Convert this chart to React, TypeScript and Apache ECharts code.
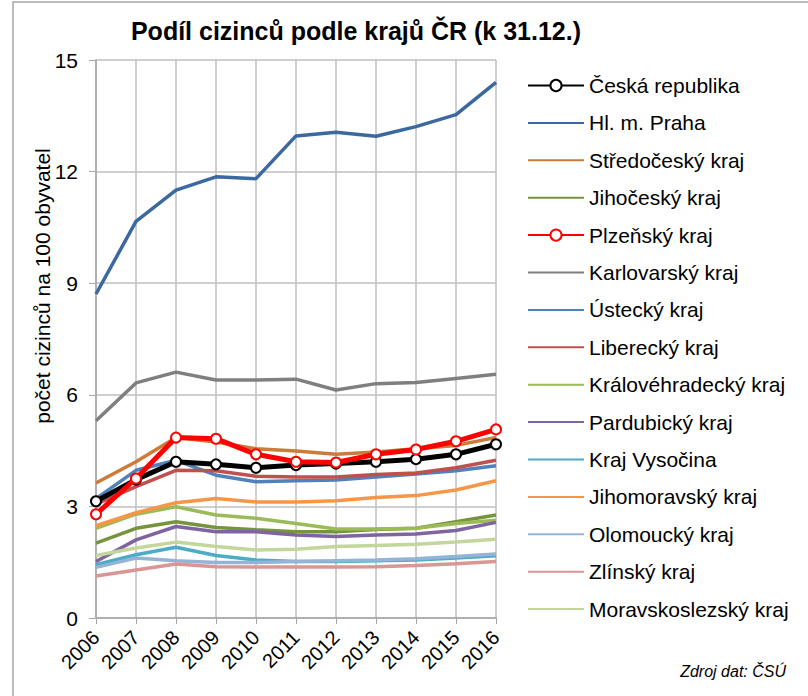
import React, { useEffect, useRef } from "react";
import * as echarts from "echarts";

const years = ["2006", "2007", "2008", "2009", "2010", "2011", "2012", "2013", "2014", "2015", "2016"];

const ceskaRepublika = [3.14, 3.72, 4.2, 4.13, 4.04, 4.11, 4.15, 4.2, 4.27, 4.4, 4.67];
const praha = [8.71, 10.66, 11.5, 11.86, 11.81, 12.96, 13.06, 12.95, 13.21, 13.53, 14.4];
const stredocesky = [3.63, 4.2, 4.85, 4.73, 4.55, 4.49, 4.4, 4.46, 4.55, 4.64, 4.85];
const jihocesky = [2.01, 2.41, 2.59, 2.43, 2.37, 2.32, 2.32, 2.38, 2.41, 2.59, 2.77];
const plzensky = [2.79, 3.75, 4.85, 4.82, 4.4, 4.2, 4.18, 4.4, 4.53, 4.75, 5.07];
const karlovarsky = [5.3, 6.32, 6.61, 6.4, 6.4, 6.42, 6.13, 6.3, 6.33, 6.44, 6.55];
const ustecky = [3.21, 3.97, 4.24, 3.84, 3.66, 3.69, 3.71, 3.79, 3.87, 3.96, 4.09];
const liberecky = [3.06, 3.53, 3.97, 3.96, 3.81, 3.79, 3.79, 3.86, 3.9, 4.04, 4.24];
const kralovehradecky = [2.41, 2.79, 2.99, 2.77, 2.68, 2.54, 2.39, 2.39, 2.41, 2.54, 2.63];
const pardubicky = [1.52, 2.1, 2.46, 2.32, 2.32, 2.23, 2.19, 2.23, 2.26, 2.35, 2.57];
const vysocina = [1.43, 1.7, 1.9, 1.68, 1.56, 1.52, 1.52, 1.54, 1.56, 1.61, 1.67];
const jihomoravsky = [2.48, 2.83, 3.1, 3.21, 3.12, 3.12, 3.15, 3.24, 3.29, 3.44, 3.69];
const olomoucky = [1.36, 1.61, 1.54, 1.49, 1.49, 1.52, 1.54, 1.56, 1.59, 1.65, 1.72];
const zlinsky = [1.13, 1.29, 1.45, 1.38, 1.37, 1.37, 1.37, 1.38, 1.41, 1.46, 1.52];
const moravskoslezsky = [1.68, 1.88, 2.04, 1.92, 1.83, 1.85, 1.92, 1.95, 1.98, 2.04, 2.12];

const seriesNames = [
  "Česká republika",
  "Hl. m. Praha",
  "Středočeský kraj",
  "Jihočeský kraj",
  "Plzeňský kraj",
  "Karlovarský kraj",
  "Ústecký kraj",
  "Liberecký kraj",
  "Královéhradecký kraj",
  "Pardubický kraj",
  "Kraj Vysočina",
  "Jihomoravský kraj",
  "Olomoucký kraj",
  "Zlínský kraj",
  "Moravskoslezský kraj",
];
const seriesData = [
  ceskaRepublika, praha, stredocesky, jihocesky, plzensky, karlovarsky, ustecky, liberecky,
  kralovehradecky, pardubicky, vysocina, jihomoravsky, olomoucky, zlinsky, moravskoslezsky,
];
const seriesColors = [
  "#000000", "#3b68a0", "#cc7b38", "#77933c", "#ff0000", "#7f7f7f", "#4f81bd", "#c0504d",
  "#9bbb59", "#8064a2", "#4bacc6", "#f79646", "#95b3d7", "#d99694", "#c3d69b",
];
const withMarkers = ["Česká republika", "Plzeňský kraj"];

const yTicks = { min: 0, max: 15, interval: 3 };

const FONT = "'Liberation Sans', Arial, sans-serif";

export default function App() {
  const ref = useRef<HTMLDivElement>(null);

  useEffect(() => {
    if (!ref.current) return;
    const chart = echarts.init(ref.current, undefined, { renderer: "svg" });

    const series = seriesNames.map((name, i) => {
      const marked = withMarkers.includes(name);
      return {
        name,
        type: "line",
        data: seriesData[i],
        symbol: marked ? "circle" : "none",
        symbolSize: 10,
        showSymbol: marked,
        z: name === "Plzeňský kraj" ? 5 : name === "Česká republika" ? 4 : 2,
        lineStyle: { color: seriesColors[i], width: marked ? 5 : 3.5 },
        itemStyle: marked
          ? { color: "#ffffff", borderColor: seriesColors[i], borderWidth: 2 }
          : { color: seriesColors[i] },
      };
    });

    chart.setOption({
      animation: false,
      backgroundColor: "#ffffff",
      textStyle: { fontFamily: FONT },
      title: {
        text: "Podíl cizinců podle krajů ČR (k 31.12.)",
        left: 351,
        top: 13,
        textAlign: "center",
        textStyle: { fontFamily: FONT, fontSize: 25, fontWeight: "bold", color: "#000" },
      },
      legend: {
        orient: "vertical",
        left: 522,
        top: 70,
        itemWidth: 56,
        itemHeight: 14,
        itemGap: 16.4,
        textStyle: { fontFamily: FONT, fontSize: 21, lineHeight: 21, color: "#000" },
        data: seriesNames.map((name) =>
          withMarkers.includes(name) ? { name } : { name, itemStyle: { opacity: 0 } }
        ),
      },
      grid: { left: 96, right: 312, top: 60, bottom: 78, containLabel: false },
      xAxis: {
        type: "category",
        data: years,
        boundaryGap: false,
        axisLine: { lineStyle: { color: "#a6a6a6", width: 1.5 } },
        axisTick: { show: true, length: 6, lineStyle: { color: "#a6a6a6" } },
        splitLine: { show: true, lineStyle: { color: "#bfbfbf", width: 1.5 } },
        axisLabel: { rotate: 45, fontSize: 20, color: "#000", margin: 16, fontFamily: FONT },
      },
      yAxis: {
        type: "value",
        min: yTicks.min,
        max: yTicks.max,
        interval: yTicks.interval,
        axisLine: { show: true, lineStyle: { color: "#a6a6a6", width: 1.5 } },
        axisTick: { show: true, length: 7, lineStyle: { color: "#a6a6a6" } },
        splitLine: { show: true, lineStyle: { color: "#bfbfbf", width: 1.5 } },
        axisLabel: { fontSize: 21, color: "#000", margin: 18, fontFamily: FONT },
      },
      graphic: [
        {
          type: "rect",
          shape: { x: 13, y: 2, width: 900, height: 900 },
          style: { fill: "none", stroke: "#a6a6a6", lineWidth: 1.5 },
          silent: true,
          z: -1,
        },
        {
          type: "text",
          x: 42,
          y: 286,
          rotation: Math.PI / 2,
          style: {
            text: "počet cizinců na 100 obyvatel",
            fontFamily: FONT,
            fontSize: 21,
            fill: "#000",
            align: "center",
            verticalAlign: "middle",
          },
        },
        {
          type: "text",
          right: 22,
          top: 663,
          style: {
            text: "Zdroj dat: ČSÚ",
            fontFamily: FONT,
            fontSize: 16,
            fontStyle: "italic",
            fill: "#000",
          },
        },
      ],
      series,
    });

    return () => chart.dispose();
  }, []);

  return (
    <div
      ref={ref}
      style={{ position: "fixed", left: 0, top: 0, width: 808, height: 696 }}
    />
  );
}
